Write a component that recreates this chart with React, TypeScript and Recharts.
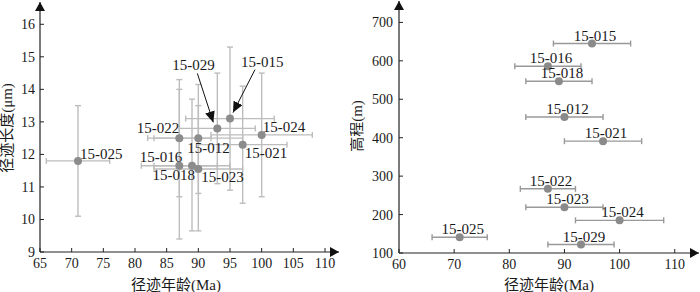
import React from 'react';
import { ScatterChart, Scatter, XAxis, YAxis, ErrorBar } from 'recharts';

// ---- data ----
const SAMPLES = ['15-012', '15-015', '15-016', '15-018', '15-021', '15-022', '15-023', '15-024', '15-025', '15-029'];
const AGE = [90, 95, 87, 89, 97, 87, 90, 100, 71, 93];
const AGE_ERR = [7, 7, 6, 6, 7, 5, 7, 8, 5, 6];
const TRACK_LENGTH = [12.5, 13.1, 11.65, 11.65, 12.3, 12.5, 11.55, 12.6, 11.8, 12.8];
const TRACK_LENGTH_ERR: [number, number][] = [
  [1.7, 1.65], [2.2, 2.2], [2.25, 2.35], [2.0, 2.05], [1.8, 1.8],
  [1.8, 1.8], [1.9, 1.95], [1.9, 1.9], [1.7, 1.7], [1.7, 1.7],
];
const ELEVATION = [454, 645, 586, 547, 391, 267, 219, 185, 141, 122];

const LEFT_X_TICKS = [65, 70, 75, 80, 85, 90, 95, 100, 105, 110];
const LEFT_Y_TICKS = [9, 10, 11, 12, 13, 14, 15, 16];
const RIGHT_X_TICKS = [60, 70, 80, 90, 100, 110];
const RIGHT_Y_TICKS = [100, 200, 300, 400, 500, 600, 700];

const X_TITLE = '径迹年龄(Ma)';
const LEFT_Y_TITLE = '径迹长度(μm)';
const RIGHT_Y_TITLE = '高程(m)';

// ---- tables built from arrays ----
const leftData = SAMPLES.map((name, i) => ({
  name,
  age: AGE[i],
  ageErr: AGE_ERR[i],
  len: TRACK_LENGTH[i],
  lenErr: TRACK_LENGTH_ERR[i],
}));
const rightData = SAMPLES.map((name, i) => ({
  name,
  age: AGE[i],
  ageErr: AGE_ERR[i],
  elev: ELEVATION[i],
}));

// ---- styles / layout ----
const FONT = 'Liberation Serif, Times New Roman, Noto Sans CJK SC, serif';
const TEXT = '#1a1a1a';
const AXIS = '#222';

type LabelPos = { anchor: 'start' | 'end' | 'middle'; dx: number; dy: number; arrow?: [number, number, number, number] };
const LEFT_LABEL_POS: Record<string, LabelPos> = {
  '15-025': { anchor: 'start', dx: 2, dy: -7 },
  '15-022': { anchor: 'end', dx: 0, dy: -10 },
  '15-012': { anchor: 'start', dx: -11, dy: 10 },
  '15-021': { anchor: 'start', dx: 2, dy: 8 },
  '15-024': { anchor: 'start', dx: 1, dy: -8 },
  '15-016': { anchor: 'end', dx: 3, dy: -9 },
  '15-018': { anchor: 'end', dx: 3, dy: 9 },
  '15-023': { anchor: 'start', dx: 3, dy: 8 },
  '15-029': { anchor: 'start', dx: -45, dy: -63, arrow: [-20, -55, -4, -6] },
  '15-015': { anchor: 'start', dx: 11, dy: -57, arrow: [25, -49, 3, -6] },
};
const RIGHT_LABEL_POS: LabelPos = { anchor: 'middle', dx: 3, dy: -8 };

function makeShape(getPos: (name: string) => LabelPos, color: string) {
  return (props: any) => {
    const { cx, cy, payload } = props;
    if (cx == null || cy == null) return <g />;
    const p = getPos(payload.name);
    return (
      <g>
        {p.arrow && (
          <line
            x1={cx + p.arrow[0]}
            y1={cy + p.arrow[1]}
            x2={cx + p.arrow[2]}
            y2={cy + p.arrow[3]}
            stroke="#111"
            strokeWidth={1}
            markerEnd="url(#annArrow)"
          />
        )}
        <circle cx={cx} cy={cy} r={4} fill={color} />
        <text
          x={cx + p.dx}
          y={cy + p.dy}
          textAnchor={p.anchor}
          dominantBaseline="central"
          style={{ fontSize: 15, fontFamily: FONT }}
          fill={TEXT}
        >
          {payload.name}
        </text>
      </g>
    );
  };
}

const XTitle = (props: any) => (
  <text x={props.tx} y={props.ty} textAnchor="middle" style={{ fontSize: 15, fontFamily: FONT }} fill={TEXT}>
    {props.text}
  </text>
);
const YTitle = (props: any) => (
  <text
    x={props.tx}
    y={props.ty}
    transform={`rotate(-90, ${props.tx}, ${props.ty})`}
    textAnchor="middle"
    dominantBaseline="central"
    style={{ fontSize: 15, fontFamily: FONT }}
    fill={TEXT}
  >
    {props.text}
  </text>
);

const tickStyle = { fontSize: 14, fill: TEXT, fontFamily: FONT, style: { fontFamily: FONT } } as any;
const xAxisLine = { stroke: AXIS, strokeWidth: 1.2, markerEnd: 'url(#axisArrow)' } as any;
const yAxisLine = { stroke: AXIS, strokeWidth: 1.2, markerStart: 'url(#axisArrow)' } as any;
const tickLine = { stroke: AXIS, strokeWidth: 1 };

export default function App() {
  return (
    <div style={{ position: 'absolute', left: 0, top: 0, width: 700, height: 292, background: '#fff', fontFamily: FONT }}>
      <svg width={0} height={0} style={{ position: 'absolute' }}>
        <defs>
          <marker
            id="axisArrow"
            viewBox="0 0 9 10"
            markerWidth={9}
            markerHeight={10}
            refX={9}
            refY={5}
            orient="auto-start-reverse"
            markerUnits="userSpaceOnUse"
          >
            <path d="M0,0 L9,5 L0,10 Z" fill="#111" />
          </marker>
          <marker
            id="annArrow"
            viewBox="0 0 10 9"
            markerWidth={11}
            markerHeight={10}
            refX={10}
            refY={4.5}
            orient="auto"
            markerUnits="userSpaceOnUse"
          >
            <path d="M0,0 L10,4.5 L0,9 Z" fill="#111" />
          </marker>
        </defs>
      </svg>
      <div style={{ position: 'absolute', left: 0, top: 0 }}>
        <ScatterChart width={350} height={292} margin={{ top: 2, right: 11, bottom: 0, left: 0 }} style={{ fontFamily: FONT }}>
          <XAxis
            type="number"
            dataKey="age"
            domain={[65, 112.21]}
            allowDataOverflow
            ticks={LEFT_X_TICKS}
            interval={0}
            height={40}
            tickSize={-4}
            tickMargin={10}
            tick={tickStyle}
            axisLine={xAxisLine}
            tickLine={tickLine}
            label={<XTitle tx={176} ty={290} text={X_TITLE} />}
          />
          <YAxis
            type="number"
            dataKey="len"
            domain={[9, 16.685]}
            allowDataOverflow
            ticks={LEFT_Y_TICKS}
            interval={0}
            width={40}
            tickSize={-4}
            tickMargin={9}
            tick={tickStyle}
            axisLine={yAxisLine}
            tickLine={tickLine}
            label={<YTitle tx={7} ty={128} text={LEFT_Y_TITLE} />}
          />
          <Scatter
            data={leftData}
            isAnimationActive={false}
            shape={makeShape((n) => LEFT_LABEL_POS[n], '#8c8c8c')}
          >
            <ErrorBar dataKey="lenErr" direction="y" width={3} stroke="#bdbdbd" strokeWidth={1.4} />
            <ErrorBar dataKey="ageErr" direction="x" width={3} stroke="#bdbdbd" strokeWidth={1.4} />
          </Scatter>
        </ScatterChart>
      </div>
      <div style={{ position: 'absolute', left: 350, top: 0 }}>
        <ScatterChart width={350} height={292} margin={{ top: 1, right: 1, bottom: 0, left: 0 }} style={{ fontFamily: FONT }}>
          <XAxis
            type="number"
            dataKey="age"
            domain={[60, 114.4]}
            allowDataOverflow
            ticks={RIGHT_X_TICKS}
            interval={0}
            height={39}
            tickSize={-4}
            tickMargin={10}
            tick={tickStyle}
            axisLine={xAxisLine}
            tickLine={tickLine}
            label={<XTitle tx={199} ty={290} text={X_TITLE} />}
          />
          <YAxis
            type="number"
            dataKey="elev"
            domain={[100, 755.7]}
            allowDataOverflow
            ticks={RIGHT_Y_TICKS}
            interval={0}
            width={49}
            tickSize={-4}
            tickMargin={10}
            tick={tickStyle}
            axisLine={yAxisLine}
            tickLine={tickLine}
            label={<YTitle tx={7} ty={126} text={RIGHT_Y_TITLE} />}
          />
          <Scatter
            data={rightData}
            isAnimationActive={false}
            shape={makeShape(() => RIGHT_LABEL_POS, '#8a8a8a')}
          >
            <ErrorBar dataKey="ageErr" direction="x" width={3} stroke="#999" strokeWidth={1.4} />
          </Scatter>
        </ScatterChart>
      </div>
    </div>
  );
}
